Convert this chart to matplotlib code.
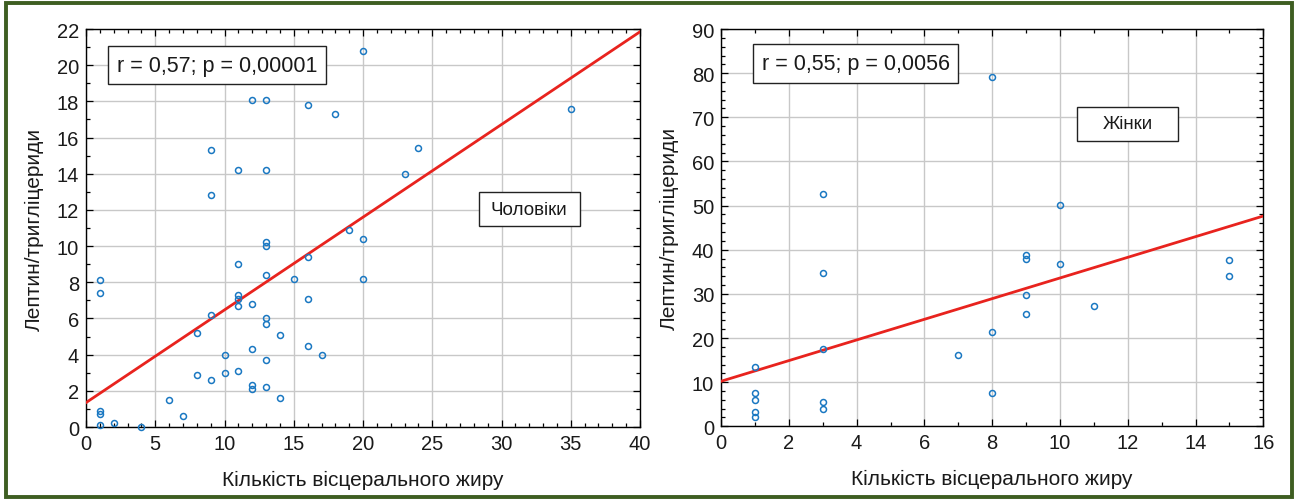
"""
Лептин/тригліцериди vs кількість вісцерального жиру: чоловіки та жінки.
"""

import matplotlib

matplotlib.use("Agg")
import matplotlib.pyplot as plt
import numpy as np
from matplotlib.patches import Rectangle
from matplotlib.ticker import MultipleLocator
from matplotlib.transforms import ScaledTranslation

plt.rcParams["font.family"] = ["Liberation Sans", "DejaVu Sans"]

# --- Чоловіки ---
men_x = [1, 1, 1, 1, 1, 2, 4, 6, 7, 8, 8, 9, 9, 9, 9, 10, 10,
         11, 11, 11, 11, 11, 11, 12, 12, 12, 12, 12,
         13, 13, 13, 13, 13, 13, 13, 13, 13, 14, 14, 15,
         16, 16, 16, 16, 17, 18, 19, 20, 20, 20, 23, 24, 35]
men_y = [8.1, 7.4, 0.9, 0.7, 0.1, 0.2, 0.0, 1.5, 0.6, 5.2, 2.9, 15.3, 12.8, 6.2, 2.6, 4.0, 3.0,
         14.2, 9.0, 7.3, 7.1, 6.7, 3.1, 18.1, 6.8, 4.3, 2.3, 2.1,
         18.1, 14.2, 10.2, 10.0, 8.4, 6.0, 5.7, 3.7, 2.2, 5.1, 1.6, 8.2,
         17.8, 9.4, 7.1, 4.5, 4.0, 17.3, 10.9, 20.8, 10.4, 8.2, 14.0, 15.4, 17.6]
men_fit = (1.35, 0.5125)  # intercept, slope
men_stats = "r = 0,57; p = 0,00001"
men_label = "Чоловіки"

# --- Жінки ---
women_x = [1, 1, 1, 1, 1, 3, 3, 3, 3, 3, 7, 8, 8, 8,
           9, 9, 9, 9, 10, 10, 11, 15, 15]
women_y = [13.4, 7.5, 6.0, 3.2, 2.0, 52.6, 34.8, 17.4, 5.6, 3.9, 16.2, 79.1, 21.4, 7.5,
           38.7, 37.9, 29.7, 25.4, 50.2, 36.8, 27.3, 37.6, 34.1]
women_fit = (10.2, 2.34)
women_stats = "r = 0,55; p = 0,0056"
women_label = "Жінки"

XLABEL = "Кількість вісцерального жиру"
YLABEL = "Лептин/тригліцериди"

COLOR_PUNKT = "#1a78c2"
COLOR_LINIA = "#e8231e"
COLOR_RAMKA = "#3e5e22"
COLOR_TEXT = "#1a1a1a"


def panel(fig, ax, x, y, fit, xlim, ylim, xstep, ystep, xminor, yminor,
          stats, stats_pos, label, label_pos):
    ax.set_xlim(*xlim)
    ax.set_ylim(*ylim)
    ax.xaxis.set_major_locator(MultipleLocator(xstep))
    ax.yaxis.set_major_locator(MultipleLocator(ystep))
    ax.xaxis.set_minor_locator(MultipleLocator(xminor))
    ax.yaxis.set_minor_locator(MultipleLocator(yminor))
    ax.grid(True, which="major", color="#c8c8c8", linewidth=1.0, zorder=0)
    ax.set_axisbelow(True)
    ax.tick_params(which="both", direction="in", top=True, right=True,
                   labelsize=14.5, width=0.9, labelcolor=COLOR_TEXT)
    ax.tick_params(which="major", length=5, pad=5)
    ax.tick_params(which="minor", length=3)
    for s in ax.spines.values():
        s.set_linewidth(1.0)

    xs = np.array(xlim)
    ax.plot(xs, fit[0] + fit[1] * xs, color=COLOR_LINIA, linewidth=2.0,
            zorder=3, clip_on=True)
    ax.plot(x, y, "o", markerfacecolor="none", markeredgecolor=COLOR_PUNKT,
            markersize=4.3, markeredgewidth=1.1, zorder=4, clip_on=False)

    box = dict(boxstyle="square,pad=0.4", facecolor="white",
               edgecolor="#222222", linewidth=1.0)
    ax.text(*stats_pos, stats, ha="center", va="center", fontsize=15.5,
            color=COLOR_TEXT, bbox=box, zorder=5)

    # рамка підпису групи має однаковий розмір (101 x 34 px) на обох панелях
    w, h = 1.01, 0.34
    rect = Rectangle((-w / 2, -h / 2), w, h, facecolor="white",
                     edgecolor="#222222", linewidth=1.0, zorder=5,
                     transform=fig.dpi_scale_trans
                     + ScaledTranslation(*label_pos, ax.transData))
    ax.add_patch(rect)
    ax.text(*label_pos, label, ha="center", va="center", fontsize=13.5,
            color=COLOR_TEXT, zorder=6)

    ax.set_xlabel(XLABEL, fontsize=15, labelpad=12, color=COLOR_TEXT)
    ax.set_ylabel(YLABEL, fontsize=15, labelpad=9, color=COLOR_TEXT)


def main():
    fig = plt.figure(figsize=(12.98, 5.02), dpi=100)

    ax1 = fig.add_axes([0.0663, 0.1474, 0.4268, 0.7928])
    panel(fig, ax1, men_x, men_y, men_fit, (0, 40), (0, 22), 5, 2, 1, 1,
          men_stats, (9.46, 20.0), men_label, (32.0, 12.05))

    ax2 = fig.add_axes([0.5555, 0.1488, 0.4178, 0.7914])
    panel(fig, ax2, women_x, women_y, women_fit, (0, 16), (0, 90), 2, 10, 1, 2,
          women_stats, (3.97, 82.2), women_label, (11.99, 68.5))

    fig.patches.append(Rectangle((0.0046, 0.008), 0.9908, 0.984,
                                 transform=fig.transFigure, fill=False,
                                 edgecolor=COLOR_RAMKA, linewidth=2.8))

    fig.savefig("out.png", dpi=100)
    plt.close(fig)


if __name__ == "__main__":
    main()
